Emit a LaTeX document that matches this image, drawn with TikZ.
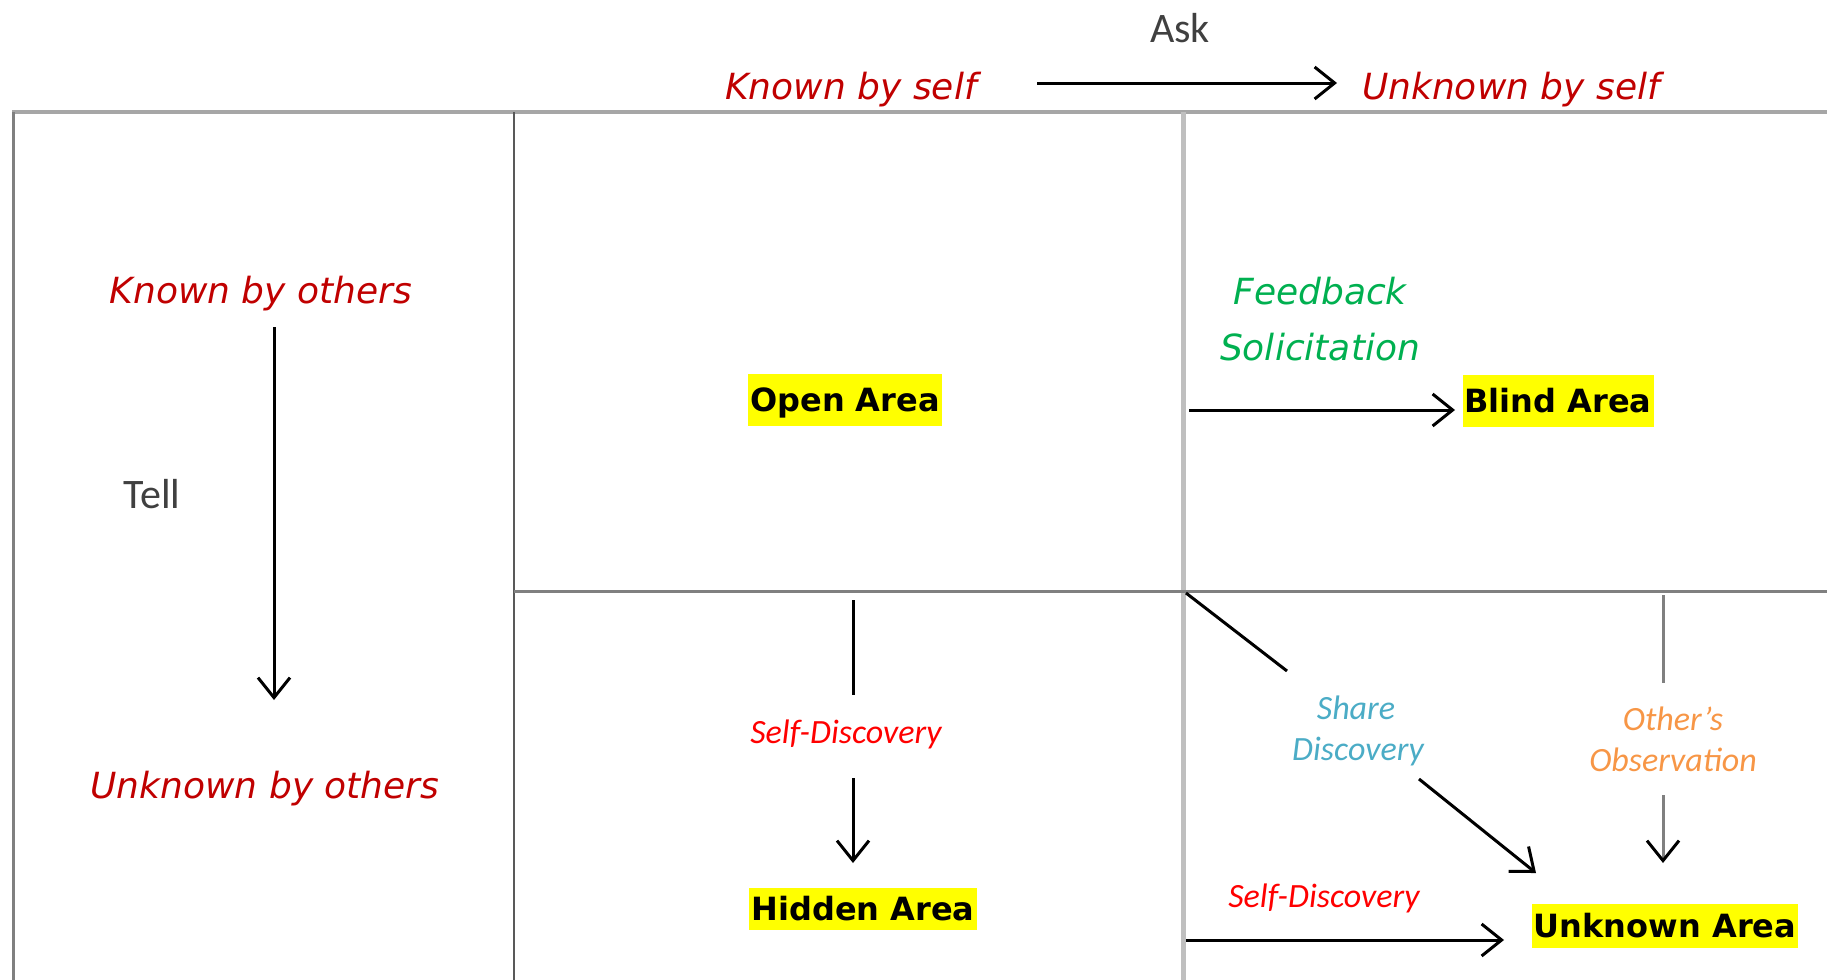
\documentclass[tikz,border=0pt]{standalone}
\usepackage{fontspec}
\usetikzlibrary{arrows.meta}
\newfontfamily\widefont{DejaVu Sans}
\newfontfamily\calfont{Carlito}
\definecolor{hdred}{HTML}{C00000}
\definecolor{fbgreen}{HTML}{00B050}
\definecolor{shblue}{HTML}{4BACC6}
\definecolor{obsorange}{HTML}{F79646}
\definecolor{sdred}{HTML}{FF0000}
\definecolor{txtgray}{HTML}{404040}
\definecolor{hlyellow}{HTML}{FFFF00}

\begin{document}
\begin{tikzpicture}[x=0.5pt,y=-0.5pt,
    head/.style={font=\widefont\itshape\fontsize{18}{22}\selectfont, anchor=base, inner sep=0pt},
    area/.style={fill=hlyellow, font=\widefont\bfseries\fontsize{16}{19}\selectfont, inner xsep=1pt, inner ysep=0pt, text height=11.5pt, text depth=0pt},
    small/.style={font=\calfont\itshape\fontsize{17}{20}\selectfont, anchor=base, inner sep=0pt},
    plain/.style={font=\calfont\fontsize{21}{25}\selectfont, text=txtgray, anchor=base, inner sep=0pt},
    arr/.style={line width=1.5pt, -{Straight Barb[length=10pt,width=16pt,line width=1.5pt]}},
    seg/.style={line width=1.5pt}]
    \useasboundingbox (0,0) rectangle (1827,980);

    % window frame
    \draw[line width=2pt, color=black!35] (12,112) -- (1827,112);
    \draw[line width=1.5pt, color=black!50] (13,112) -- (13,980);
    \draw[line width=1pt, color=black!65] (514,112) -- (514,980);
    \draw[line width=2.5pt, color=black!25] (1183,112) -- (1183,980);
    \draw[line width=1.5pt, color=black!50] (514,591) -- (1827,591);

    % labels
    \node[plain] (ask) at (1180,42) {Ask};
    \node[head, text=hdred] (kself) at (851,99) {Known by self};
    \node[head, text=hdred] (uself) at (1511,99) {Unknown by self};
    \node[head, text=hdred] (kothers) at (261,303) {Known by others};
    \node[head, text=hdred] (uothers) at (265,798) {Unknown by others};
    \node[plain] (tell) at (152,508) {Tell};

    \node[head, text=fbgreen] (fbA) at (1320,304) {Feedback};
    \node[head, text=fbgreen] (fbB) at (1320,360) {Solicitation};

    \node[small, text=sdred] (sdA) at (846,743) {Self-Discovery};
    \node[small, text=sdred] (sdB) at (1324,907) {Self-Discovery};
    \node[small, text=shblue] (shA) at (1356,719) {Share};
    \node[small, text=shblue] (shB) at (1358,760) {Discovery};
    \node[small, text=obsorange] (obA) at (1673,730) {Other’s};
    \node[small, text=obsorange] (obB) at (1673,771) {Observation};

    % areas
    \node[area, minimum height=26pt] (open) at (845,400) {Open Area};
    \node[area, minimum height=26pt] (blind) at (1558,401) {Blind Area};
    \node[area, minimum height=21pt] (hidden) at (863,909) {Hidden Area};
    \node[area, minimum height=22pt] (unknown) at (1665,926) {Unknown Area};

    % arrow ends
    \coordinate (askS) at (1037,83);
    \coordinate (askE) at (1337,83);
    \coordinate (tellS) at (274,327);
    \coordinate (tellE) at (274,700);
    \coordinate (fbS) at (1189,410);
    \coordinate (fbE) at (1455,410);
    \coordinate (hidS) at (853,600);
    \coordinate (hidM) at (853,695);
    \coordinate (hidN) at (853,778);
    \coordinate (hidE) at (853,863);
    \coordinate (shS) at (1186,593);
    \coordinate (shM) at (1287,671);
    \coordinate (shN) at (1419,779);
    \coordinate (shE) at (1536,873);
    \coordinate (obS) at (1663,595);
    \coordinate (obM) at (1663,683);
    \coordinate (obN) at (1663,795);
    \coordinate (obE) at (1663,863);
    \coordinate (sdS) at (1186,940);
    \coordinate (sdE) at (1504,940);

    \draw[arr] (askS) -- (askE);
    \draw[arr] (tellS) -- (tellE);
    \draw[arr] (fbS) -- (fbE);
    \draw[seg] (hidS) -- (hidM);
    \draw[arr] (hidN) -- (hidE);
    \draw[seg] (shS) -- (shM);
    \draw[arr] (shN) -- (shE);
    \draw[seg, color=black!50] (obS) -- (obM);
    \draw[arr, color=black!50, -{Straight Barb[length=10pt,width=16pt,line width=1.5pt,color=black]}] (obN) -- (obE);
    \draw[arr] (sdS) -- (sdE);
\end{tikzpicture}
\end{document}
